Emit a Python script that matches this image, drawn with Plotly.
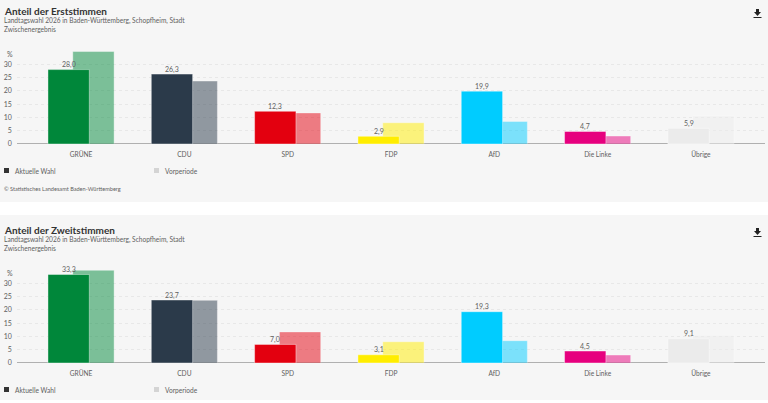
#!/usr/bin/env python3
import plotly.graph_objects as go

WIDTH = 768
HEIGHT = 403
FONT = "Lato"

parties = ["GRÜNE", "CDU", "SPD", "FDP", "AfD", "Die Linke", "Übrige"]
party_colors = ["#00873a", "#2b3a4a", "#e3000f", "#ffed00", "#00ccff", "#e6007e", "#ebebeb"]

erst_current = [28.0, 26.3, 12.3, 2.9, 19.9, 4.7, 5.9]
erst_previous = [34.8, 23.7, 11.7, 8.0, 8.5, 3.0, 10.5]
zweit_current = [33.3, 23.7, 7.0, 3.1, 19.3, 4.5, 9.1]
zweit_previous = [34.9, 23.6, 11.7, 8.0, 8.4, 3.0, 10.4]

y_ticks = [0, 5, 10, 15, 20, 25, 30]


def px_x(x: float) -> float:
    return x / WIDTH


def px_y(y: float) -> float:
    # 400 rather than 403: the photographed page came out about 3px short
    return 1 - y / 400


def add_text(fig, x, y, text, size, color="#5f5f5f", bold=False):
    """Left aligned text, y is the vertical middle in page pixels."""
    fig.add_annotation(
        x=px_x(x), y=px_y(y), xref="paper", yref="paper",
        text=f"<b>{text}</b>" if bold else text,
        showarrow=False, xanchor="left", yanchor="middle",
        font=dict(family=FONT, size=size, color=color),
        borderpad=0, borderwidth=0,
    )


def add_box(fig, x0, y0, x1, y1, color):
    fig.add_shape(
        type="rect", xref="paper", yref="paper", layer="below",
        x0=px_x(x0), x1=px_x(x1), y0=px_y(y0), y1=px_y(y1),
        fillcolor=color, line_width=0,
    )


def add_download_icon(fig, top):
    points = [(756, 0), (759, 0), (759, 3), (761, 3), (757.5, 7), (754, 3), (756, 3)]
    path = "M " + " L ".join(
        f"{px_x(x)} {px_y(top + y)}" for x, y in points
    ) + " Z"
    fig.add_shape(type="path", xref="paper", yref="paper", path=path,
                  fillcolor="#222222", line_width=0)
    add_box(fig, 753.5, top + 8, 761.5, top + 9, "#222222")


def add_panel(fig, row, current, previous, title, top, base_y):
    suffix = "" if row == 1 else "2"
    axis_x = f"x{suffix}"
    axis_y = f"y{suffix}"

    # previous period sits behind the current bar, shifted to the right
    fig.add_trace(go.Bar(
        x=parties, y=previous, xaxis=axis_x, yaxis=axis_y,
        width=0.4, offset=-0.08,
        marker=dict(color=party_colors, opacity=0.5,
                    line=dict(color="rgba(255,255,255,0.4)", width=1)),
        showlegend=False, hoverinfo="skip",
    ))
    fig.add_trace(go.Bar(
        x=parties, y=current, xaxis=axis_x, yaxis=axis_y,
        width=0.4, offset=-0.32,
        marker=dict(color=party_colors,
                    line=dict(color="rgba(255,255,255,0.4)", width=1)),
        showlegend=False,
    ))

    # value labels sit closer to the bar than plotly's outside text would
    for party, value in zip(parties, current):
        fig.add_annotation(
            x=party, y=value, xref=axis_x, yref=axis_y,
            text=f"{value:.1f}".replace(".", ","),
            showarrow=False, xshift=-12.4, yshift=5,
            xanchor="center", yanchor="middle", borderpad=0,
            font=dict(family=FONT, size=7, color="#5f5f5f"),
        )

    domain_y = [px_y(base_y), px_y(base_y - 36 * 2.657)]
    fig.update_layout({
        f"xaxis{suffix}": dict(
            domain=[px_x(17.3), px_x(765)], range=[-0.617, 6.62],
            anchor=axis_y, showgrid=False, showline=False, zeroline=False,
            ticks="outside", ticklen=4, tickcolor="rgba(0,0,0,0)",
            tickfont=dict(family=FONT, size=6.6, color="#5f5f5f"),
            fixedrange=True,
        ),
        f"yaxis{suffix}": dict(
            domain=domain_y, range=[0, 36], anchor=axis_x,
            tickmode="array", tickvals=y_ticks,
            showgrid=True, gridcolor="#e8e8e8", griddash="dot", gridwidth=1,
            zeroline=True, zerolinecolor="#b0b0b0", zerolinewidth=1,
            showline=False, ticks="outside", ticklen=3, tickcolor="rgba(0,0,0,0)",
            tickfont=dict(family=FONT, size=7, color="#5f5f5f"),
            fixedrange=True,
        ),
    })

    add_text(fig, 4, top + 10.7, title, 10, color="#333333", bold=True)
    add_text(fig, 4, top + 20.5, "Landtagswahl 2026 in Baden-Württemberg, Schopfheim, Stadt", 6.6)
    add_text(fig, 4, top + 28.7, "Zwischenergebnis", 6.6)
    add_text(fig, 6.5, base_y - 90, "%", 7)

    legend_y = base_y + 26.5
    add_box(fig, 4, legend_y - 2.5, 9, legend_y + 2.5, "#333333")
    add_text(fig, 15, legend_y, "Aktuelle Wahl", 6.6)
    add_box(fig, 154, legend_y - 2.5, 159, legend_y + 2.5, "#d4d4d4")
    add_text(fig, 165, legend_y, "Vorperiode", 6.6)

    add_download_icon(fig, top + 9)


fig = go.Figure()

add_box(fig, 0, 0, WIDTH, 202, "#f6f6f6")
add_box(fig, 0, 215, WIDTH, 400, "#f6f6f6")

add_panel(fig, 1, erst_current, erst_previous, "Anteil der Erststimmen", 0, 144)
add_panel(fig, 2, zweit_current, zweit_previous, "Anteil der Zweitstimmen", 219, 363)
add_text(fig, 4, 188, "© Statistisches Landesamt Baden-Württemberg", 5.6)

fig.update_layout(
    width=WIDTH,
    height=HEIGHT,
    margin=dict(l=0, r=0, t=0, b=0),
    paper_bgcolor="#ffffff",
    plot_bgcolor="rgba(0,0,0,0)",
    barmode="overlay",
    font=dict(family=FONT),
)

# the page has a default body margin, the chart should fill the window;
# the gray body also covers the strip left below the chart
fig.write_html(
    "out.html",
    config={"displayModeBar": False},
    post_script=(
        "document.body.style.margin = '0';"
        "document.body.style.background = '#f6f6f6';"
        "document.documentElement.style.background = '#f6f6f6';"
    ),
)
